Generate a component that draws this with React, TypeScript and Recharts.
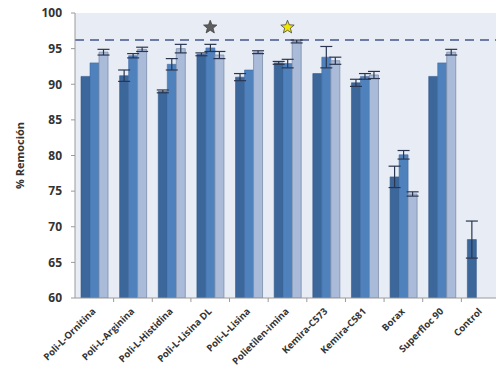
import {
  BarChart,
  Bar,
  XAxis,
  YAxis,
  CartesianGrid,
  ErrorBar,
  ReferenceLine,
  ReferenceDot,
} from "recharts";

// === datos ===
const CATEGORIES = [
  "Poli-L-Ornitina",
  "Poli-L-Arginina",
  "Poli-L-Histidina",
  "Poli-L-Lisina DL",
  "Poli-L-Lisina",
  "Polietilen-imina",
  "Kemira-C573",
  "Kemira-C581",
  "Borax",
  "Superfloc 90",
  "Control",
];

const SERIE_A = [91.1, 91.2, 89.0, 94.2, 91.0, 93.0, 91.5, 90.2, 77.0, 91.1, 68.2];
const ERR_A = [0, 0.8, 0.2, 0.2, 0.5, 0.2, 0, 0.5, 1.5, 0, 2.6];
const SERIE_B = [93.0, 94.0, 92.8, 95.1, 92.0, 92.9, 93.8, 91.1, 80.1, 93.0, null];
const ERR_B = [0, 0.3, 0.8, 0.5, 0, 0.6, 1.5, 0.4, 0.6, 0, 0];
const SERIE_C = [94.5, 94.9, 95.0, 94.1, 94.5, 96.0, 93.3, 91.3, 74.6, 94.5, null];
const ERR_C = [0.4, 0.3, 0.6, 0.5, 0.2, 0.2, 0.5, 0.5, 0.3, 0.4, 0];

const Y_TICKS = [60, 65, 70, 75, 80, 85, 90, 95, 100];
const THRESHOLD = 96.2;
const STARS = [
  { cat: "Poli-L-Lisina DL", y: 98.0, color: "#5E5E5E" },
  { cat: "Polietilen-imina", y: 98.0, color: "#F2E600" },
];

const COLORS = {
  a: "#3C679B",
  b: "#4F81BD",
  c: "#A9BBD9",
  bg: "#E8EDF5",
  dash: "#6C7CA6",
  err: "#2A3650",
  text: "#333333",
};

const chartData = CATEGORIES.map((name, i) => ({
  name,
  a: SERIE_A[i],
  ea: ERR_A[i],
  b: SERIE_B[i],
  eb: ERR_B[i],
  c: SERIE_C[i],
  ec: ERR_C[i],
}));

const CHART_W = 500;
const MARGIN_LEFT = 75;
const PLOT_W = CHART_W - MARGIN_LEFT;
const BAND = PLOT_W / CATEGORIES.length;

// etiqueta del eje x, girada 45°
const CategoryTick = (props: any) => {
  const { x, y, payload } = props;
  return (
    <g>
      <line
        x1={x + BAND / 2}
        x2={x + BAND / 2}
        y1={y - 8}
        y2={y - 4}
        stroke="#9A9A9A"
      />
      <text
        x={x + 2}
        y={y + 6}
        transform={`rotate(-45, ${x + 2}, ${y + 6})`}
        textAnchor="end"
        fontSize={9.5}
        fontWeight={700}
        fill={COLORS.text}
      >
        {payload.value}
      </text>
    </g>
  );
};

const Star = (props: any) => {
  const { cx, cy, fill } = props;
  const pts: string[] = [];
  for (let k = 0; k < 10; k++) {
    const r = k % 2 === 0 ? 7 : 3;
    const ang = -Math.PI / 2 + (k * Math.PI) / 5;
    pts.push(`${cx + r * Math.cos(ang)},${cy + r * Math.sin(ang)}`);
  }
  return <polygon points={pts.join(" ")} fill={fill} stroke="#444" strokeWidth={0.8} />;
};

export default function App() {
  return (
    <div
      style={{
        position: "absolute",
        left: 0,
        top: 0,
        width: 496,
        height: 366,
        overflow: "hidden",
        background: "#fff",
        fontFamily: "'Open Sans', sans-serif",
      }}
    >
      <BarChart
        width={CHART_W}
        height={366}
        data={chartData}
        margin={{ top: 13, right: 0, bottom: 0, left: 0 }}
        barSize={9}
        barGap={0}
      >
        <CartesianGrid horizontal={false} vertical={false} fill={COLORS.bg} />
        <XAxis
          dataKey="name"
          interval={0}
          height={68}
          tick={<CategoryTick />}
          tickLine={false}
          axisLine={{ stroke: "#9A9A9A" }}
        />
        <YAxis
          width={MARGIN_LEFT}
          domain={[60, 100]}
          ticks={Y_TICKS}
          interval={0}
          allowDataOverflow
          tick={{ fontSize: 12, fontWeight: 700, fill: COLORS.text }}
          tickLine={{ stroke: "#9A9A9A" }}
          tickSize={4}
          tickMargin={9}
          axisLine={{ stroke: "#9A9A9A" }}
          label={{
            value: "% Remoción",
            angle: -90,
            position: "insideLeft",
            offset: 20,
            style: { fontSize: 11, fontWeight: 700, fill: COLORS.text, textAnchor: "middle" },
          }}
        />
        <ReferenceLine
          y={THRESHOLD}
          stroke={COLORS.dash}
          strokeWidth={2}
          strokeDasharray="9 6"
        />
        <Bar dataKey="a" fill={COLORS.a} stroke="#34598A" strokeWidth={0.6} isAnimationActive={false}>
          <ErrorBar dataKey="ea" width={6} stroke={COLORS.err} strokeWidth={1.2} />
        </Bar>
        <Bar dataKey="b" fill={COLORS.b} stroke="#3F6DA6" strokeWidth={0.6} isAnimationActive={false}>
          <ErrorBar dataKey="eb" width={6} stroke={COLORS.err} strokeWidth={1.2} />
        </Bar>
        <Bar dataKey="c" fill={COLORS.c} stroke="#7D8DA8" strokeWidth={0.8} isAnimationActive={false}>
          <ErrorBar dataKey="ec" width={6} stroke={COLORS.err} strokeWidth={1.2} />
        </Bar>
        {STARS.map((s) => (
          <ReferenceDot
            key={s.cat}
            x={s.cat}
            y={s.y}
            r={7}
            fill={s.color}
            shape={<Star />}
          />
        ))}
      </BarChart>
    </div>
  );
}
